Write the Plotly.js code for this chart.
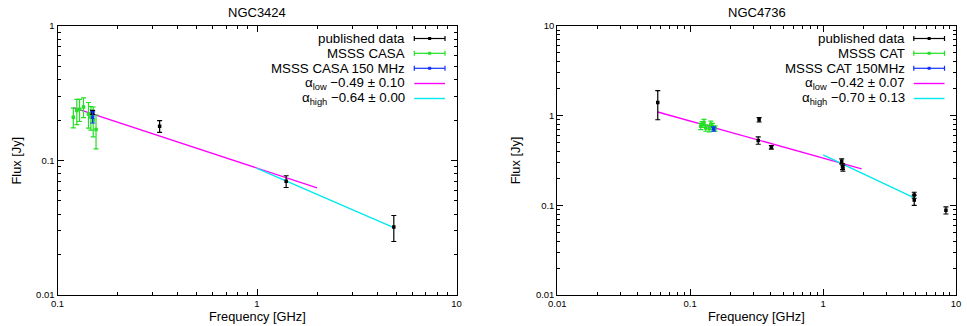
<!DOCTYPE html>
<html>
<head>
<meta charset="utf-8">
<script src="https://cdn.plot.ly/plotly-3.0.1.min.js"></script>
<style>html,body{margin:0;padding:0;background:#fff;}#chart{width:967px;height:326px;}</style>
</head>
<body>
<div id="chart"></div>
<script>
// ---------------- DATA ----------------
// NGC3424 (left panel)
const pubFreqL  = [0.15, 0.325, 1.4, 4.85];
const pubFluxL  = [0.228, 0.18, 0.070, 0.032];
const pubErrL   = [0.008, 0.018, 0.007, 0.007];
const casaFreqL = [0.120, 0.125, 0.129, 0.135, 0.143, 0.147, 0.151, 0.156];
const casaFluxL = [0.21, 0.235, 0.24, 0.25, 0.222, 0.21, 0.20, 0.17];
const casaErrL  = [0.035, 0.05, 0.045, 0.042, 0.048, 0.042, 0.05, 0.048];
const casa150FreqL = [0.15];
const casa150FluxL = [0.21];
const casa150ErrL  = [0.02];
const lowFitFreqL  = [0.12, 2.0];
const lowFitFluxL  = [0.247, 0.0626];
const highFitFreqL = [1.0, 4.85];
const highFitFluxL = [0.0874, 0.0317];
const legendL = ['published data', 'MSSS CASA', 'MSSS CASA 150 MHz',
                 'α<sub>low</sub> −0.49 ± 0.10', 'α<sub>high</sub> −0.64 ± 0.00'];

// NGC4736 (right panel)
const pubFreqR = [0.057, 0.325, 0.33, 0.408, 1.38, 1.40, 1.41, 4.85, 4.85, 8.4];
const pubFluxR = [1.40, 0.53, 0.90, 0.443, 0.31, 0.27, 0.26, 0.13, 0.115, 0.088];
const pubErrR  = [0.50, 0.05, 0.05, 0.02, 0.02, 0.02, 0.02, 0.01, 0.015, 0.008];
const catFreqR = [0.120, 0.123, 0.127, 0.131, 0.139, 0.143, 0.147, 0.154];
const catFluxR = [0.76, 0.80, 0.84, 0.73, 0.72, 0.80, 0.76, 0.72];
const catErrR  = [0.06, 0.06, 0.07, 0.06, 0.06, 0.07, 0.06, 0.05];
const cat150FreqR = [0.15];
const cat150FluxR = [0.71];
const cat150ErrR  = [0.04];
const lowFitFreqR  = [0.057, 1.95];
const lowFitFluxR  = [1.10, 0.255];
const highFitFreqR = [1.0, 4.85];
const highFitFluxR = [0.365, 0.121];
const legendR = ['published data', 'MSSS CAT', 'MSSS CAT 150MHz',
                 'α<sub>low</sub> −0.42 ± 0.07', 'α<sub>high</sub> −0.70 ± 0.13'];

const titles = ['NGC3424', 'NGC4736'];
const xTickValsL = [0.1, 1, 10], xTickTextL = ['0.1', '1', '10'];
const xTickValsR = [0.01, 0.1, 1, 10], xTickTextR = ['0.01', '0.1', '1', '10'];
const yTickValsL = [0.01, 0.1, 1], yTickTextL = ['0.01', '0.1', '1'];
const yTickValsR = [0.01, 0.1, 1, 10], yTickTextR = ['0.01', '0.1', '1', '10'];

// ---------------- STYLE ----------------
const W = 967, H = 326;
const FONT = '"Liberation Sans", Arial, Helvetica, sans-serif';
const BLACK = '#000000', GREEN = '#22e022', BLUE = '#1030ff', MAGENTA = '#ff00ff', CYAN = '#00e8f0';
const seriesColors = [BLACK, GREEN, BLUE, MAGENTA, CYAN];
const seriesIsErr = [true, true, true, false, false];

// panel pixel boxes
const panels = [
  {x0: 57.5, x1: 456.5, y0: 26, y1: 295},
  {x0: 557.3, x1: 956, y0: 26, y1: 295}
];
const px = v => v / W, py = v => 1 - v / H;

function minorVals(decades) {
  const out = [];
  decades.forEach(d => { for (let k = 2; k <= 9; k++) out.push(+(k * d).toPrecision(3)); });
  return out;
}

function errTrace(x, y, e, color, xa, ya) {
  return {
    x: x, y: y, type: 'scatter', mode: 'markers', xaxis: xa, yaxis: ya, showlegend: false,
    marker: {color: color, size: 3.5, symbol: 'square'},
    error_y: {type: 'data', array: e, visible: true, color: color, thickness: 1.2, width: 2.5},
    hoverinfo: 'x+y'
  };
}
function lineTrace(x, y, color, xa, ya) {
  return {x: x, y: y, type: 'scatter', mode: 'lines', xaxis: xa, yaxis: ya, showlegend: false,
          line: {color: color, width: 1.4}};
}

const traces = [
  lineTrace(lowFitFreqL, lowFitFluxL, MAGENTA, 'x', 'y'),
  lineTrace(highFitFreqL, highFitFluxL, CYAN, 'x', 'y'),
  errTrace(casaFreqL, casaFluxL, casaErrL, GREEN, 'x', 'y'),
  errTrace(pubFreqL, pubFluxL, pubErrL, BLACK, 'x', 'y'),
  errTrace(casa150FreqL, casa150FluxL, casa150ErrL, BLUE, 'x', 'y'),

  lineTrace(lowFitFreqR, lowFitFluxR, MAGENTA, 'x2', 'y2'),
  lineTrace(highFitFreqR, highFitFluxR, CYAN, 'x2', 'y2'),
  errTrace(catFreqR, catFluxR, catErrR, GREEN, 'x2', 'y2'),
  errTrace(pubFreqR, pubFluxR, pubErrR, BLACK, 'x2', 'y2'),
  errTrace(cat150FreqR, cat150FluxR, cat150ErrR, BLUE, 'x2', 'y2')
];

function axisBase(domain, tickvals, ticktext, range) {
  const decs = tickvals.slice(0, -1);
  return {
    type: 'log', domain: domain, range: range, autorange: false,
    showline: true, linecolor: BLACK, linewidth: 1, mirror: 'allticks',
    ticks: 'inside', ticklen: 6, tickwidth: 1, tickcolor: BLACK,
    tickmode: 'array', tickvals: tickvals, ticktext: ticktext,
    tickfont: {family: FONT, size: 9.5, color: BLACK},
    minor: {tickmode: 'array', tickvals: minorVals(decs), ticks: 'inside', ticklen: 3, tickwidth: 1, tickcolor: BLACK, showgrid: false},
    showgrid: false, zeroline: false, fixedrange: true
  };
}

const layout = {
  width: W, height: H,
  margin: {l: 0, r: 0, t: 0, b: 0},
  paper_bgcolor: '#fff', plot_bgcolor: '#fff',
  showlegend: false,
  font: {family: FONT, color: BLACK},
  xaxis:  Object.assign(axisBase([px(panels[0].x0), px(panels[0].x1)], xTickValsL, xTickTextL, [-1, 1]), {anchor: 'y'}),
  yaxis:  Object.assign(axisBase([py(panels[0].y1), py(panels[0].y0)], yTickValsL, yTickTextL, [-2, 0]), {anchor: 'x'}),
  xaxis2: Object.assign(axisBase([px(panels[1].x0), px(panels[1].x1)], xTickValsR, xTickTextR, [-2, 1]), {anchor: 'y2'}),
  yaxis2: Object.assign(axisBase([py(panels[1].y1), py(panels[1].y0)], yTickValsR, yTickTextR, [-2, 1]), {anchor: 'x2'}),
  annotations: [],
  shapes: []
};

// titles and axis titles
panels.forEach((p, i) => {
  const cx = (p.x0 + p.x1) / 2;
  layout.annotations.push({text: titles[i], xref: 'paper', yref: 'paper', x: px(cx), y: py(12.7),
    xanchor: 'center', yanchor: 'middle', showarrow: false, font: {family: FONT, size: 13, color: BLACK}});
  layout.annotations.push({text: 'Frequency [GHz]', xref: 'paper', yref: 'paper', x: px(cx), y: py(316.5),
    xanchor: 'center', yanchor: 'middle', showarrow: false, font: {family: FONT, size: 12.8, color: BLACK}});
  layout.annotations.push({text: 'Flux [Jy]', xref: 'paper', yref: 'paper', x: px(p.x0 - 41.5), y: py((p.y0 + p.y1) / 2),
    xanchor: 'center', yanchor: 'middle', textangle: -90, showarrow: false, font: {family: FONT, size: 12.8, color: BLACK}});
});

// gnuplot-style key: right-aligned text followed by a line sample
const keys = [legendL, legendR];
const rowY = [38.5, 53.3, 68.3, 83.5, 98.5];
panels.forEach((p, i) => {
  const textRight = p.x1 - 49.2, s0 = p.x1 - 42.2, s1 = p.x1 - 11.5;
  keys[i].forEach((lab, j) => {
    const yy = rowY[j];
    layout.annotations.push({text: lab, xref: 'paper', yref: 'paper', x: px(textRight), y: py(yy),
      xanchor: 'right', yanchor: 'middle', showarrow: false, font: {family: FONT, size: 13.3, color: BLACK}});
    const c = seriesColors[j];
    layout.shapes.push({type: 'line', xref: 'paper', yref: 'paper', x0: px(s0), x1: px(s1), y0: py(yy), y1: py(yy),
      line: {color: c, width: seriesIsErr[j] ? 1.2 : 1.4}});
    if (seriesIsErr[j]) {
      [s0, s1].forEach(xe => layout.shapes.push({type: 'line', xref: 'paper', yref: 'paper',
        x0: px(xe), x1: px(xe), y0: py(yy - 2.5), y1: py(yy + 2.5), line: {color: c, width: 1.2}}));
      const m = (s0 + s1) / 2;
      layout.shapes.push({type: 'rect', xref: 'paper', yref: 'paper', x0: px(m - 1.5), x1: px(m + 1.5),
        y0: py(yy - 1.5), y1: py(yy + 1.5), fillcolor: c, line: {width: 0}});
    }
  });
});

Plotly.newPlot('chart', traces, layout, {staticPlot: true, displayModeBar: false});
</script>
</body>
</html>
